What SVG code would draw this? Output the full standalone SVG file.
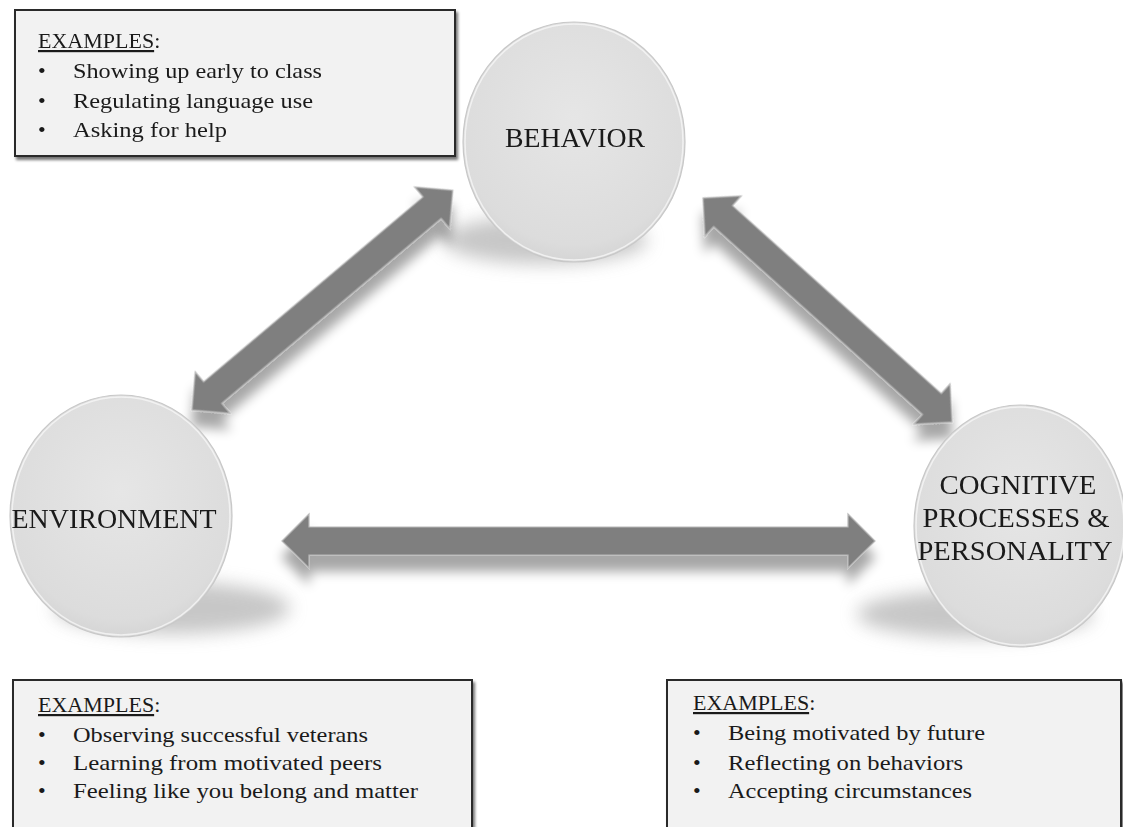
<svg xmlns="http://www.w3.org/2000/svg" width="1123" height="827" viewBox="0 0 1123 827">
<defs>
<style>
.lbl{font-family:"Liberation Serif","Times New Roman",serif;fill:#1a1a1a;}
.node-txt{font-size:27px;text-anchor:middle;}
.ex{font-size:22px;}
.box{fill:#f2f2f2;stroke:#2a2a2a;stroke-width:2;}
.arrow{fill:#7f7f7f;stroke:#b8b8b8;stroke-width:1.2;stroke-linejoin:miter;}
.circ{stroke:#c8c8c8;stroke-width:1.2;}
.rim{fill:none;stroke:#f6f6f6;stroke-width:1.5;opacity:0.8;}
.cshadow{fill:#9a9a9a;opacity:0.55;}
</style>
<radialGradient id="gCirc" cx="50%" cy="40%" r="62%">
<stop offset="0" stop-color="#e6e6e6"/>
<stop offset="0.85" stop-color="#dcdcdc"/>
<stop offset="1" stop-color="#d3d3d3"/>
</radialGradient>
<filter id="fBox" x="-5%" y="-10%" width="112%" height="125%">
<feGaussianBlur in="SourceAlpha" stdDeviation="1.5"/>
<feOffset dx="2" dy="3" result="b"/>
<feComponentTransfer><feFuncA type="linear" slope="0.55"/></feComponentTransfer>
<feMerge><feMergeNode/><feMergeNode in="SourceGraphic"/></feMerge>
</filter>
<filter id="fArrow" x="-20%" y="-40%" width="140%" height="200%">
<feGaussianBlur in="SourceAlpha" stdDeviation="6"/>
<feOffset dx="0" dy="16" result="b"/>
<feComponentTransfer><feFuncA type="linear" slope="0.35"/></feComponentTransfer>
<feMerge><feMergeNode/><feMergeNode in="SourceGraphic"/></feMerge>
</filter>
<filter id="fBlur" x="-30%" y="-100%" width="160%" height="300%">
<feGaussianBlur stdDeviation="9"/>
</filter>
</defs>
<rect width="1123" height="827" fill="#ffffff"/>

<g id="shadows">
<ellipse class="cshadow" cx="545" cy="240" rx="102" ry="24" filter="url(#fBlur)"/>
<ellipse class="cshadow" cx="172" cy="608" rx="118" ry="26" filter="url(#fBlur)"/>
<ellipse class="cshadow" cx="975" cy="614" rx="118" ry="24" filter="url(#fBlur)"/>
</g>

<g id="connectors" filter="url(#fArrow)">
<polygon class="arrow" transform="translate(282,541)" points="0,0 27,-27 27,-14 566,-14 566,-27 593,0 566,27 566,14 27,14 27,27"/>
<polygon class="arrow" transform="translate(192,410) rotate(-40.12)" points="0,0 27,-27 27,-14 314,-14 314,-27 341,0 314,27 314,14 27,14 27,27"/>
<polygon class="arrow" transform="translate(703,198) rotate(41.98)" points="0,0 27,-27 27,-14 308,-14 308,-27 335,0 308,27 308,14 27,14 27,27"/>
</g>

<g id="node-behavior">
<ellipse class="circ" cx="574" cy="142" rx="111" ry="120" fill="url(#gCirc)"/>
<ellipse class="rim" cx="574" cy="142" rx="109" ry="118"/>
<text class="lbl node-txt" x="575" y="147" textLength="140" lengthAdjust="spacingAndGlyphs">BEHAVIOR</text>
</g>

<g id="node-environment">
<ellipse class="circ" cx="121" cy="516" rx="111" ry="121" fill="url(#gCirc)"/>
<ellipse class="rim" cx="121" cy="516" rx="109" ry="119"/>
<text class="lbl node-txt" x="114" y="528" textLength="205" lengthAdjust="spacingAndGlyphs">ENVIRONMENT</text>
</g>

<g id="node-cognitive">
<ellipse class="circ" cx="1020" cy="526" rx="106" ry="121" fill="url(#gCirc)"/>
<ellipse class="rim" cx="1020" cy="526" rx="104" ry="119"/>
<text class="lbl node-txt" x="1018" y="494" textLength="157" lengthAdjust="spacingAndGlyphs">COGNITIVE</text>
<text class="lbl node-txt" x="1016" y="527" textLength="187" lengthAdjust="spacingAndGlyphs">PROCESSES &amp;</text>
<text class="lbl node-txt" x="1015" y="560" textLength="195" lengthAdjust="spacingAndGlyphs">PERSONALITY</text>
</g>

<g id="box-behavior">
<rect class="box" x="15" y="10" width="440" height="146" filter="url(#fBox)"/>
<text class="lbl ex" x="38" y="48"><tspan text-decoration="underline">EXAMPLES</tspan>:</text>
<text class="lbl ex" x="38" y="78">•</text>
<text class="lbl ex" x="73" y="78" textLength="249" lengthAdjust="spacingAndGlyphs">Showing up early to class</text>
<text class="lbl ex" x="38" y="108">•</text>
<text class="lbl ex" x="73" y="108" textLength="240" lengthAdjust="spacingAndGlyphs">Regulating language use</text>
<text class="lbl ex" x="38" y="137">•</text>
<text class="lbl ex" x="73" y="137" textLength="154" lengthAdjust="spacingAndGlyphs">Asking for help</text>
</g>

<g id="box-environment">
<rect class="box" x="13" y="680" width="459" height="160" filter="url(#fBox)"/>
<text class="lbl ex" x="38" y="712"><tspan text-decoration="underline">EXAMPLES</tspan>:</text>
<text class="lbl ex" x="38" y="742">•</text>
<text class="lbl ex" x="73" y="742" textLength="295" lengthAdjust="spacingAndGlyphs">Observing successful veterans</text>
<text class="lbl ex" x="38" y="770">•</text>
<text class="lbl ex" x="73" y="770" textLength="309" lengthAdjust="spacingAndGlyphs">Learning from motivated peers</text>
<text class="lbl ex" x="38" y="798">•</text>
<text class="lbl ex" x="73" y="798" textLength="345" lengthAdjust="spacingAndGlyphs">Feeling like you belong and matter</text>
</g>

<g id="box-cognitive">
<rect class="box" x="667" y="680" width="454" height="160" filter="url(#fBox)"/>
<text class="lbl ex" x="693" y="710"><tspan text-decoration="underline">EXAMPLES</tspan>:</text>
<text class="lbl ex" x="693" y="740">•</text>
<text class="lbl ex" x="728" y="740" textLength="257" lengthAdjust="spacingAndGlyphs">Being motivated by future</text>
<text class="lbl ex" x="693" y="770">•</text>
<text class="lbl ex" x="728" y="770" textLength="235" lengthAdjust="spacingAndGlyphs">Reflecting on behaviors</text>
<text class="lbl ex" x="693" y="798">•</text>
<text class="lbl ex" x="728" y="798" textLength="244" lengthAdjust="spacingAndGlyphs">Accepting circumstances</text>
</g>
</svg>
